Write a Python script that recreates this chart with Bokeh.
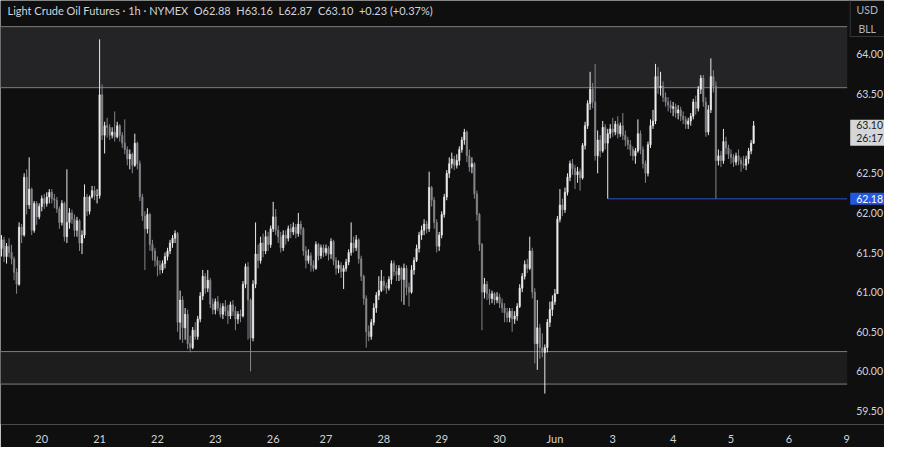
from bokeh.plotting import figure
from bokeh.models import (ColumnDataSource, Range1d, FixedTicker, BoxAnnotation,
                          NumeralTickFormatter)
from bokeh.core.properties import value
from bokeh.embed import file_html
from bokeh.resources import INLINE

# ---------------- data (1h candles, Light Crude Oil Futures) ----------------
first_open = 61.55
closes = [
    61.66, 61.45, 61.58, 61.50, 61.42, 61.25, 61.10, 61.82, 61.72, 62.45,
    62.10, 62.30, 61.78, 62.12, 61.95, 62.08, 62.18, 62.12, 62.20, 62.26,
    62.18, 62.16, 62.05, 61.88, 62.12, 61.70, 61.88, 62.00, 61.92, 61.78,
    61.90, 61.62, 61.72, 62.20, 62.02, 62.20, 62.28, 62.22, 62.22, 63.49,
    62.98, 63.10, 63.08, 62.98, 63.02, 62.96, 63.10, 62.98, 62.88, 62.80,
    62.68, 62.74, 62.60, 62.88, 62.62, 62.20, 61.96, 61.80, 61.98, 61.60,
    61.52, 61.40, 61.34, 61.28, 61.36, 61.45, 61.52, 61.62, 61.68, 61.74,
    60.62, 60.90, 60.55, 60.72, 60.35, 60.30, 60.52, 60.44, 60.66, 60.95,
    61.20, 61.05, 61.15, 60.85, 60.78, 60.88, 60.80, 60.72, 60.82, 60.76,
    60.70, 60.84, 60.76, 60.66, 60.72, 60.70, 61.10, 61.32, 60.90, 60.42,
    61.10, 61.48, 61.40, 61.62, 61.52, 61.70, 61.60, 61.80, 61.95, 61.78,
    61.70, 61.56, 61.72, 61.68, 61.80, 61.76, 61.82, 61.74, 61.86, 61.80,
    61.52, 61.40, 61.46, 61.34, 61.30, 61.60, 61.46, 61.56, 61.50, 61.55,
    61.48, 61.64, 61.40, 61.30, 61.34, 61.26, 61.30, 61.38, 61.50, 61.62,
    61.56, 61.66, 61.42, 61.20, 60.92, 60.50, 60.44, 60.62, 60.80, 60.96,
    61.02, 61.14, 61.08, 61.05, 61.16, 61.36, 61.26, 61.22, 61.30, 61.16,
    61.30, 61.06, 61.00, 61.28, 61.40, 61.55, 61.72, 61.78, 61.86, 61.80,
    62.32, 62.16, 61.88, 61.58, 61.72, 61.98, 62.20, 62.50, 62.62, 62.68,
    62.60, 62.66, 62.80, 62.92, 63.02, 62.72, 62.58, 62.62, 62.24, 61.98,
    61.60, 61.00, 61.10, 60.98, 60.92, 60.98, 60.90, 60.94, 60.86, 60.80,
    60.74, 60.68, 60.76, 60.66, 60.70, 60.82, 61.05, 61.20, 61.35, 61.30,
    61.52, 61.00, 60.35, 60.55, 60.30, 60.24, 60.30, 60.62, 60.78, 60.88,
    60.98, 61.92, 62.10, 62.04, 62.26, 62.45, 62.62, 62.56, 62.48, 62.52,
    62.44, 62.85, 63.10, 63.38, 63.56, 63.40, 62.72, 62.92, 62.78, 63.08,
    62.88, 63.00, 63.06, 63.02, 63.12, 63.00, 63.10, 62.98, 62.92, 62.86,
    62.80, 62.72, 62.78, 63.00, 62.80, 62.62, 62.50, 62.86, 63.10, 63.16,
    63.72, 63.58, 63.60, 63.46, 63.40, 63.36, 63.32, 63.34, 63.26, 63.30,
    63.22, 63.18, 63.12, 63.16, 63.22, 63.40, 63.32, 63.56, 63.70, 63.40,
    63.02, 63.30, 63.72, 63.60, 62.66, 62.72, 62.66, 62.90, 62.82, 62.74,
    62.70, 62.64, 62.72, 62.66, 62.62, 62.60, 62.68, 62.78, 62.88, 63.10,
]
highs = [
    61.72, 61.70, 61.62, 61.68, 61.60, 61.45, 61.30, 61.88, 61.86, 62.50,
    62.55, 62.70, 62.32, 62.15, 62.15, 62.12, 62.22, 62.24, 62.26, 62.30,
    62.30, 62.24, 62.20, 62.08, 62.16, 62.14, 62.55, 62.06, 62.04, 61.98,
    61.95, 61.92, 61.78, 62.36, 62.24, 62.22, 62.34, 62.34, 62.30, 64.19,
    63.62, 63.15, 63.20, 63.12, 63.08, 63.28, 63.15, 63.12, 63.02, 63.18,
    62.84, 62.80, 62.76, 63.00, 62.90, 62.66, 62.24, 62.02, 62.06, 62.00,
    61.66, 61.56, 61.45, 61.40, 61.40, 61.50, 61.56, 61.66, 61.72, 61.78,
    61.76, 61.02, 60.95, 60.80, 60.78, 60.45, 60.56, 60.62, 60.70, 61.00,
    61.28, 61.24, 61.28, 61.18, 60.92, 60.92, 60.95, 60.86, 60.86, 60.90,
    60.84, 60.88, 60.90, 60.82, 60.76, 60.78, 61.14, 61.36, 61.38, 60.92,
    61.15, 61.88, 61.60, 61.70, 61.74, 61.78, 61.76, 61.84, 62.14, 62.05,
    61.84, 61.76, 61.78, 61.78, 61.84, 61.86, 61.88, 61.86, 62.00, 61.90,
    61.82, 61.58, 61.54, 61.50, 61.40, 61.64, 61.62, 61.60, 61.60, 61.60,
    61.58, 61.68, 61.66, 61.44, 61.40, 61.38, 61.34, 61.42, 61.54, 61.88,
    61.70, 61.72, 61.68, 61.46, 61.22, 60.96, 60.58, 60.66, 60.86, 61.00,
    61.20, 61.28, 61.20, 61.12, 61.20, 61.40, 61.40, 61.34, 61.34, 61.32,
    61.36, 61.34, 61.12, 61.34, 61.44, 61.60, 61.76, 61.84, 61.92, 61.90,
    62.52, 62.34, 62.20, 61.92, 61.76, 62.02, 62.24, 62.54, 62.70, 62.76,
    62.72, 62.74, 62.84, 62.96, 63.06, 63.04, 62.80, 62.70, 62.64, 62.28,
    62.00, 61.62, 61.18, 61.14, 61.04, 61.02, 61.00, 61.00, 60.98, 60.92,
    60.86, 60.80, 60.80, 60.80, 60.76, 60.86, 61.10, 61.24, 61.40, 61.42,
    61.70, 61.56, 61.05, 60.90, 60.60, 60.48, 60.34, 60.66, 60.88, 60.96,
    61.04, 61.96, 62.30, 62.18, 62.32, 62.50, 62.66, 62.68, 62.60, 62.58,
    62.56, 62.88, 63.15, 63.42, 63.78, 63.64, 63.88, 63.04, 62.98, 63.16,
    63.12, 63.06, 63.12, 63.20, 63.16, 63.22, 63.14, 63.26, 63.04, 62.96,
    62.92, 62.84, 62.82, 63.18, 63.04, 62.84, 62.66, 62.90, 63.18, 63.30,
    63.88, 63.84, 63.78, 63.66, 63.52, 63.46, 63.42, 63.40, 63.38, 63.36,
    63.34, 63.28, 63.22, 63.20, 63.26, 63.44, 63.48, 63.60, 63.74, 63.74,
    63.46, 63.36, 63.95, 63.80, 63.66, 62.80, 62.78, 63.06, 62.96, 62.86,
    62.80, 62.74, 62.76, 62.80, 62.70, 62.72, 62.72, 62.82, 62.92, 63.16,
]
lows = [
    61.45, 61.38, 61.36, 61.44, 61.35, 61.15, 60.98, 61.08, 61.62, 61.70,
    61.98, 62.05, 61.72, 61.75, 61.85, 61.92, 62.02, 62.05, 62.08, 62.12,
    62.12, 62.06, 62.00, 61.80, 61.84, 61.64, 61.62, 61.80, 61.86, 61.70,
    61.70, 61.52, 61.48, 61.68, 61.96, 61.98, 62.18, 62.16, 62.12, 62.18,
    62.92, 62.75, 62.95, 62.92, 62.94, 62.90, 62.94, 62.90, 62.82, 62.74,
    62.60, 62.55, 62.50, 62.58, 62.55, 62.15, 61.90, 61.28, 61.74, 61.52,
    61.40, 61.32, 61.20, 61.22, 61.24, 61.30, 61.40, 61.48, 61.56, 61.62,
    60.50, 60.40, 60.36, 60.40, 60.28, 60.24, 60.28, 60.40, 60.40, 60.62,
    60.90, 60.98, 61.00, 60.80, 60.72, 60.72, 60.76, 60.68, 60.66, 60.70,
    60.60, 60.66, 60.70, 60.52, 60.60, 60.62, 60.68, 61.05, 60.40, 60.00,
    60.38, 61.05, 61.30, 61.36, 61.44, 61.48, 61.52, 61.56, 61.76, 61.72,
    61.62, 61.50, 61.52, 61.60, 61.64, 61.68, 61.72, 61.68, 61.70, 61.72,
    61.46, 61.30, 61.36, 61.26, 61.26, 61.28, 61.40, 61.42, 61.44, 61.46,
    61.40, 61.42, 61.34, 61.22, 61.24, 61.18, 61.04, 61.26, 61.34, 61.46,
    61.50, 61.52, 61.36, 61.14, 60.84, 60.30, 60.38, 60.40, 60.58, 60.74,
    60.90, 61.00, 61.02, 60.98, 61.02, 61.10, 61.20, 61.14, 61.14, 60.88,
    60.84, 60.96, 60.82, 60.98, 61.22, 61.38, 61.50, 61.66, 61.72, 61.74,
    61.76, 62.08, 61.80, 61.50, 61.52, 61.68, 61.94, 62.16, 62.44, 62.56,
    62.54, 62.56, 62.60, 62.76, 62.86, 62.64, 62.52, 62.50, 62.18, 61.90,
    61.52, 60.52, 60.92, 60.90, 60.84, 60.86, 60.84, 60.86, 60.80, 60.74,
    60.62, 60.62, 60.62, 60.50, 60.60, 60.64, 60.80, 61.00, 61.16, 61.24,
    61.28, 60.92, 60.10, 60.02, 60.16, 60.18, 59.72, 60.24, 60.56, 60.70,
    60.84, 60.98, 61.88, 61.96, 62.00, 62.22, 62.40, 62.48, 62.30, 62.38,
    62.28, 62.42, 62.80, 63.06, 63.30, 63.32, 62.66, 62.50, 62.70, 62.76,
    62.80, 62.18, 62.94, 62.96, 62.98, 62.94, 62.96, 62.92, 62.84, 62.80,
    62.72, 62.66, 62.62, 62.76, 62.74, 62.56, 62.38, 62.46, 62.82, 63.06,
    63.12, 63.50, 63.48, 63.40, 63.34, 63.28, 63.26, 63.22, 63.20, 63.18,
    63.16, 63.12, 63.06, 63.06, 63.10, 63.18, 63.24, 63.28, 63.50, 63.34,
    62.96, 62.98, 63.26, 63.52, 62.18, 62.60, 62.58, 62.62, 62.74, 62.68,
    62.62, 62.58, 62.60, 62.60, 62.52, 62.56, 62.54, 62.62, 62.74, 62.87,
]

# bar index at which each trading day starts, and its axis label
day_ticks = [16, 39, 62, 85, 108, 129, 152, 175, 198, 220, 243, 267, 290, 313, 336]
day_labels = ["20", "21", "22", "23", "26", "27", "28", "29", "30", "Jun",
              "3", "4", "5", "6", "9"]
month_label = "Jun"

price_ticks = [59.5, 60.0, 60.5, 61.0, 61.5, 62.0, 62.5, 63.5, 64.0]

upper_zone = [63.58, 64.35]
lower_zone = [59.84, 60.25]
ray_level = 62.18
last_close = 63.10
countdown = "26:17"
currency = "USD"
unit = "BLL"
title_text = ("Light Crude Oil Futures \u00b7 1h \u00b7 NYMEX\u00a0\u00a0O62.88\u00a0\u00a0H63.16"
              "\u00a0\u00a0L62.87\u00a0\u00a0C63.10\u00a0\u00a0+0.23 (+0.37%)")

# ---------------- derived columns ----------------
opens = [first_open] + closes[:-1]
idx = list(range(len(closes)))
UP, DOWN = "#ececec", "#85858b"
colors = [UP if c >= o else DOWN for o, c in zip(opens, closes)]
tops = [max(o, c) for o, c in zip(opens, closes)]
bottoms = [min(o, c) for o, c in zip(opens, closes)]
hi = [max(h, t) for h, t in zip(highs, tops)]
lo = [min(l, b) for l, b in zip(lows, bottoms)]
src = ColumnDataSource(dict(x=idx, top=tops, bottom=bottoms, high=hi, low=lo, color=colors))

jun_start = day_ticks[day_labels.index(month_label)]
ray_start = next(i for i in idx if i >= jun_start and lows[i] == ray_level)

# ---------------- layout (frame holds header, candles and price scale) ----------------
BG = "#0f0f0f"
TXT = "#d1d4dc"
FONT = "Lato"
FRAME_W, FRAME_H = 884, 424
BARS_W = 846.7                    # pixels of the frame used by the candles
x_start, bars_end = -0.4, 336.2   # bar range shown in the candle area
y_start, y_end = 59.33, 64.68     # y_end includes the header strip
px_x = BARS_W / (bars_end - x_start)
px_y = FRAME_H / (y_end - y_start)
x_end = x_start + FRAME_W / px_x

p = figure(title=None, frame_width=FRAME_W, frame_height=FRAME_H, output_backend="svg",
           toolbar_location=None, x_range=Range1d(x_start, x_end),
           y_range=Range1d(y_start, y_end), y_axis_location="right", min_border=0)
p.background_fill_color = BG
p.border_fill_color = BG
p.outline_line_color = None
p.grid.visible = False

# header text
p.text(x=[x_start + 7 / px_x], y=[y_end - 9.5 / px_y], text=[title_text], text_color=TXT,
       text_font=value(FONT), text_font_size="11px", text_baseline="middle",
       text_align="left")

# zones (end at the price scale)
p.add_layout(BoxAnnotation(bottom=upper_zone[0], top=upper_zone[1], right=bars_end,
                           fill_color="#242426", fill_alpha=1, line_color=None,
                           level="underlay"))
p.add_layout(BoxAnnotation(bottom=lower_zone[0], top=lower_zone[1], right=bars_end,
                           fill_color="#1d1d1e", fill_alpha=1, line_color=None,
                           level="underlay"))
zl = upper_zone + lower_zone
p.segment(x0=[x_start] * len(zl), y0=zl, x1=[bars_end] * len(zl), y1=zl,
          line_color="#7e7e80", line_width=1)

# horizontal ray from the low
p.segment(x0=[ray_start], y0=[ray_level], x1=[bars_end], y1=[ray_level],
          line_color="#1f3d8f", line_width=1.5)

# candles
p.segment(x0="x", y0="low", x1="x", y1="high", line_color="color", line_width=1, source=src)
p.vbar(x="x", width=0.55, top="top", bottom="bottom", fill_color="color",
       line_color="color", line_width=0.6, source=src)

# ---------------- price scale ----------------
ax = p.yaxis[0]
ax.fixed_location = bars_end
ax.ticker = FixedTicker(ticks=price_ticks)
ax.formatter = NumeralTickFormatter(format="0.00")
ax.axis_line_color = None
ax.major_tick_line_color = None
ax.minor_tick_line_color = None
ax.major_tick_out = 0
ax.major_tick_in = 0
ax.minor_tick_out = 0
ax.minor_tick_in = 0
ax.major_label_standoff = 9
ax.major_label_text_color = TXT
ax.major_label_text_font = FONT
ax.major_label_text_font_size = "10.5px"

label_x = bars_end + 9 / px_x
box_left = bars_end + 3 / px_x
# last price + countdown box
p.quad(left=[box_left], right=[x_end + 1], top=[last_close + 6 / px_y],
       bottom=[last_close - 20 / px_y], fill_color="#d6d6d9", line_color=None)
p.text(x=[label_x, label_x], y=[last_close + 0.5 / px_y, last_close - 12 / px_y],
       text=[f"{last_close:.2f}", countdown], text_color="#1a1a1a",
       text_font=value(FONT), text_font_size="10.5px", text_baseline="middle",
       text_align="left")
# ray level box
p.quad(left=[box_left], right=[x_end + 1], top=[ray_level + 6 / px_y],
       bottom=[ray_level - 6 / px_y], fill_color="#2457e0", line_color=None)
p.text(x=[label_x], y=[ray_level], text=[f"{ray_level:.2f}"], text_color="#ffffff",
       text_font=value(FONT), text_font_size="10.5px", text_baseline="middle",
       text_align="left")

# currency / unit box at the top of the scale
unit_x = bars_end + 20 / px_x
box_bottom = y_end - 36 / px_y
p.line(x=[box_left, box_left, x_end + 1], y=[y_end + 1, box_bottom, box_bottom],
       line_color="#38383c", line_width=1)
p.text(x=[unit_x, unit_x], y=[y_end - 9.5 / px_y, y_end - 28 / px_y], text=[currency, unit],
       text_color="#b2b5be", text_font=value(FONT), text_font_size="10.5px",
       text_baseline="middle", text_align="center")

# ---------------- time axis ----------------
xa = p.xaxis[0]
xa.ticker = FixedTicker(ticks=day_ticks)
xa.major_label_overrides = {t: l for t, l in zip(day_ticks, day_labels)}
xa.axis_line_color = None
xa.major_tick_line_color = None
xa.minor_tick_line_color = None
xa.major_tick_out = 0
xa.major_tick_in = 0
xa.minor_tick_out = 0
xa.minor_tick_in = 0
xa.major_label_standoff = 7
xa.major_label_text_color = TXT
xa.major_label_text_font = FONT
xa.major_label_text_font_size = "11px"

open("out.html", "w").write(file_html(p, INLINE))
